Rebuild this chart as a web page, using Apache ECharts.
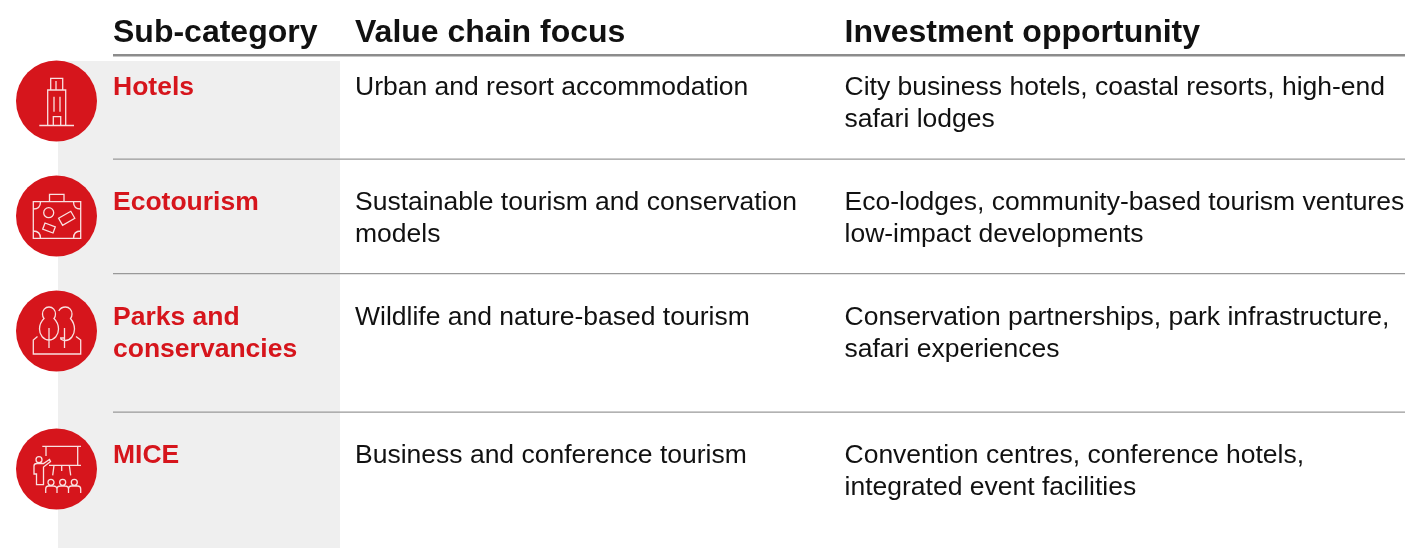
<!DOCTYPE html>
<html lang="en">
<head>
<meta charset="UTF-8">
<title>Sub-categories</title>
<script src="https://cdn.jsdelivr.net/npm/echarts@6/dist/echarts.min.js"></script>
<style>
    html, body { margin: 0; padding: 0; background: #fff; }
    #main { width: 1405px; height: 548px; }
</style>
</head>
<body>
<div id="main"></div>
<script>
var headers = ['Sub-category', 'Value chain focus', 'Investment opportunity'];
var subCategories = ['Hotels', 'Ecotourism', 'Parks and\nconservancies', 'MICE'];
var valueChain = [
    'Urban and resort accommodation',
    'Sustainable tourism and conservation\nmodels',
    'Wildlife and nature-based tourism',
    'Business and conference tourism'
];
var opportunities = [
    'City business hotels, coastal resorts, high-end\nsafari lodges',
    'Eco-lodges, community-based tourism ventures,\nlow-impact developments',
    'Conservation partnerships, park infrastructure,\nsafari experiences',
    'Convention centres, conference hotels,\nintegrated event facilities'
];

// icons, drawn around the centre of each circle
var icons = [
    'M-5.8 -11V-22.7H6.2V-11M-0.5 -20V-11M-8.8 24V-11H9.2V24M-3.2 24V15.7H4.2V24M-2.5 -4.3V10.7M3.5 -4.3V10.7M-17.2 24.5H17.5',
    'M-23.2 -14.3H24.2V22.3H-23.2ZM-7 -14.3V-21.7H7.5V-14.3' +
    'M-23.2 -7Q-16 -7 -16 -14.3M17 -14.3Q17 -7 24.2 -7M24.2 15Q17 15 17 22.3M-16 22.3Q-16 15 -23.2 15' +
    'M-2.8 -3.3A5 5 0 1 1 -12.8 -3.3A5 5 0 1 1 -2.8 -3.3Z' +
    'M18.3 2.3L14.3 -4.7L2.1 2.3L6.1 9.3ZM-3.5 17L-1.2 10.8L-11.5 7L-13.8 13.2Z',
    'M-7.5 -24C-11.5 -24 -14 -20.5 -14 -17C-14 -15 -13.5 -13.5 -12.5 -12.5C-15.5 -9.5 -17 -6 -17 -2C-17 4 -13 9 -7.5 9C-2 9 2 4 2 -2C2 -6 0.5 -9.5 -2.5 -12.5C-1.5 -13.5 -1 -15 -1 -17C-1 -20.5 -3.5 -24 -7.5 -24Z' +
    'M2.3 -20C3.5 -22.5 6 -24 9 -24C13 -24 15.5 -20.5 15.5 -17C15.5 -15 15 -13.5 14 -12.5C16.5 -9.5 18 -6 18 -2C18 4 14 9.5 9 9.5C7 9.5 5.5 9 4 8' +
    'M-7.5 -3V17M8 -3V17M3.5 7H8' +
    'M-19 5.5L-23.2 9V23H24.2V9L19.5 5.5',
    'M-14.2 -22.7H24.5M-10.5 -22.7V-13M21.2 -22.7V-3.7M-7.5 -3.7H24.5M-2.5 -3.7L-3.8 6.3M5.2 -3.7V2M12.8 -3.7L14.2 6.3' +
    'M-14.5 -9.3A3 3 0 1 1 -20.5 -9.3A3 3 0 1 1 -14.5 -9.3Z' +
    'M-17.5 -5.5H-13L-7 -9.5L-6 -7.5L-13 -2V15.7H-20V5H-22.5V-3Q-22.5 -5.5 -19.5 -5.5Z' +
    'M-2.5 13.3A3 3 0 1 1 -8.5 13.3A3 3 0 1 1 -2.5 13.3Z' +
    'M9.2 13.3A3 3 0 1 1 3.2 13.3A3 3 0 1 1 9.2 13.3Z' +
    'M20.8 13.3A3 3 0 1 1 14.8 13.3A3 3 0 1 1 20.8 13.3Z' +
    'M-10.8 24V20Q-10.8 17 -8 17H-3.5Q0.5 17 0.5 20V24M0.5 20Q0.5 17 4 17H8.5Q12 17 12 20V24M12 20Q12 17 15 17H21Q24.2 17 24.2 20V24'
];

var red = '#d6151c';
var font = '"Liberation Sans", Arial, sans-serif';
var colX = [113, 355, 844.5];
var rowCircleY = [101, 216, 331, 469];
var rowTextY = [72, 187, 302, 440];
var ruleY = [159, 273.5, 412];

function label(x, y, text, size, weight, color) {
    return {
        type: 'text', x: x, y: y, z: 5,
        style: {
            text: text, fill: color, fontFamily: font, fontSize: size, fontWeight: weight,
            lineHeight: 32, align: 'left', verticalAlign: 'top'
        }
    };
}

var els = [];
els.push({ type: 'rect', z: 1, shape: { x: 58, y: 61, width: 282, height: 487 }, style: { fill: '#efefef' } });
els.push({ type: 'rect', z: 2, shape: { x: 113, y: 54, width: 1292, height: 2.5 }, style: { fill: '#8c8c8c' } });

ruleY.forEach(function (y) {
    els.push({ type: 'rect', z: 2, shape: { x: 113, y: y - 0.5, width: 1292, height: 1.2 }, style: { fill: '#999999' } });
});

headers.forEach(function (h, i) {
    els.push(label(colX[i], 17, h, 32, 'bold', '#111111'));
});

subCategories.forEach(function (name, i) {
    els.push(label(colX[0], rowTextY[i], name, 26.5, 'bold', red));
    els.push(label(colX[1], rowTextY[i], valueChain[i], 26.5, 'normal', '#111111'));
    els.push(label(colX[2], rowTextY[i], opportunities[i], 26.5, 'normal', '#111111'));
});

var myChart = echarts.init(document.getElementById('main'), null, { renderer: 'canvas' });
myChart.setOption({
    animation: false,
    backgroundColor: '#ffffff',
    graphic: { elements: els },
    series: [{
        type: 'custom',
        coordinateSystem: 'none',
        z: 10,
        silent: true,
        data: subCategories.map(function (name, i) { return [i]; }),
        renderItem: function (params, api) {
            var i = api.value(0);
            return {
                type: 'group',
                children: [
                    { type: 'circle', shape: { cx: 56.5, cy: rowCircleY[i], r: 40.5 }, style: { fill: red } },
                    {
                        type: 'path', x: 56.5, y: rowCircleY[i],
                        shape: { pathData: icons[i] },
                        style: { fill: 'none', stroke: '#f9e0e0', lineWidth: 1.3 }
                    }
                ]
            };
        }
    }]
});
</script>
</body>
</html>
